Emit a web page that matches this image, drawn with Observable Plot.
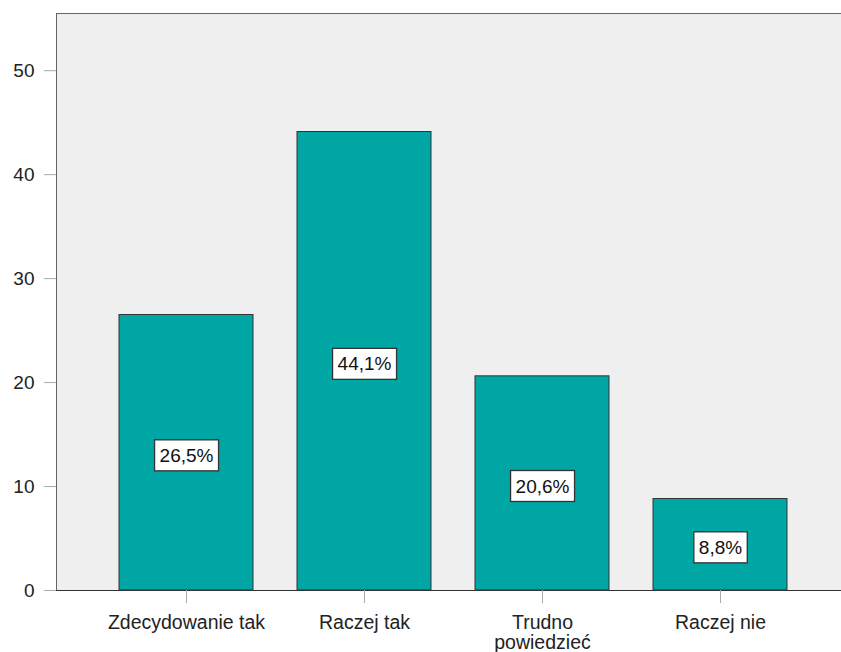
<!DOCTYPE html>
<html>
<head>
<meta charset="utf-8">
<script src="https://cdn.jsdelivr.net/npm/d3@7"></script>
<script src="https://cdn.jsdelivr.net/npm/@observablehq/plot@0.6"></script>
<style>
  html, body { margin: 0; padding: 0; background: white; }
</style>
</head>
<body>
<div id="chart"></div>
<script>
const categories = ["Zdecydowanie tak", "Raczej tak", "Trudno powiedzieć", "Raczej nie"];
const tickLabels = ["Zdecydowanie tak", "Raczej tak", "Trudno\npowiedzieć", "Raczej nie"];
const percents = [26.5, 44.1, 20.6, 8.8];
const valueLabels = ["26,5%", "44,1%", "20,6%", "8,8%"];
const yTicks = [0, 10, 20, 30, 40, 50];

const data = categories.map((c, i) => ({category: c, value: percents[i], label: valueLabels[i]}));

const chart = Plot.plot({
  width: 841,
  height: 652,
  marginTop: 13,
  marginBottom: 62,
  marginLeft: 56,
  marginRight: -2,
  style: {fontFamily: "'Liberation Sans', Arial, sans-serif", fontSize: "18px", background: "white", color: "#222"},
  x: {type: "band", domain: categories, range: [96.2, 810.8], paddingInner: 0.245, paddingOuter: 0.1225, label: null},
  y: {domain: [0, 55.5], label: null},
  marks: [
    Plot.frame({fill: "#efefef", stroke: "#666"}),
    Plot.barY(data, {x: "category", y: "value", fill: "#00a6a3", stroke: "#333", strokeWidth: 1}),
    Plot.ruleY([0], {stroke: "#333"}),
    Plot.axisY(yTicks, {tickSize: 12, tickPadding: 10, stroke: "#aaa", fill: "#222", fontSize: 19}),
    Plot.axisX({tickSize: 13, tickPadding: 11, stroke: "#aaa", fill: "#222", fontSize: 19.5, lineHeight: 1.03,
      tickFormat: d => tickLabels[categories.indexOf(d)]}),
    Plot.text(data, {x: "category", y: d => d.value / 2, text: "label", fontSize: 19, fill: "#111", dy: 3})
  ]
});

document.getElementById("chart").append(chart);

const svgns = "http://www.w3.org/2000/svg";
chart.querySelectorAll('g[aria-label="text"] text').forEach(t => {
  const b = t.getBBox();
  const r = document.createElementNS(svgns, "rect");
  r.setAttribute("x", b.x - 5);
  r.setAttribute("y", b.y - 5);
  r.setAttribute("width", b.width + 10);
  r.setAttribute("height", b.height + 10);
  r.setAttribute("fill", "white");
  r.setAttribute("stroke", "#333");
  r.setAttribute("stroke-width", "1.3");
  const tr = t.getAttribute("transform");
  if (tr) r.setAttribute("transform", tr);
  t.parentNode.insertBefore(r, t);
});
</script>
</body>
</html>
